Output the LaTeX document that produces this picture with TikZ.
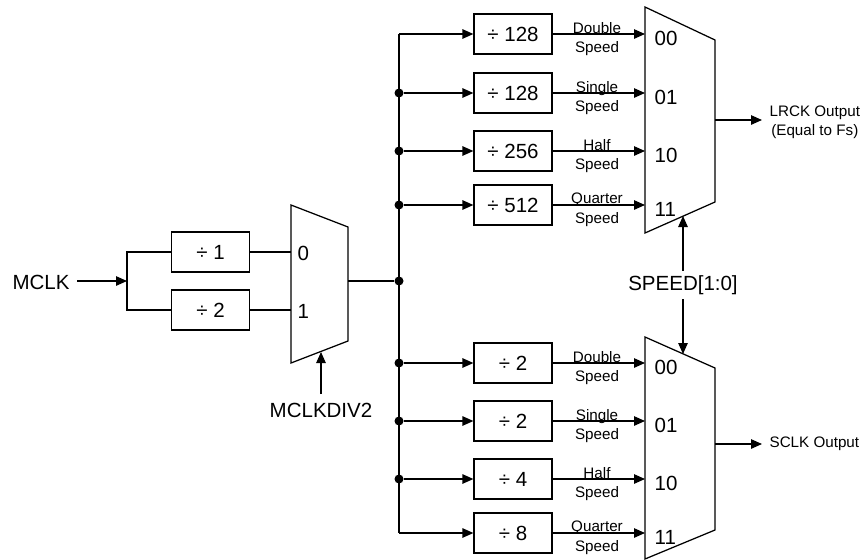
\documentclass[tikz,border=0pt]{standalone}
\usepackage{fontspec}
\setmainfont{Liberation Sans}
\usetikzlibrary{arrows.meta}
\begin{document}
\begin{tikzpicture}[x=1pt,y=-1pt,
  line width=1.25pt,
  big/.style={font=\fontsize{20.5}{24}\selectfont},
  small/.style={font=\fontsize{15.2}{19}\selectfont},
  divbox/.style={draw, big, minimum width=78pt, minimum height=40pt, inner sep=0pt},
  arr/.style={-{Triangle[length=11pt,width=9.5pt]}},
  dot/.style={circle, fill, inner sep=0pt, minimum size=9pt},
  inlbl/.style={big, inner sep=0pt, anchor=west},
  splbl/.style={small, inner sep=0pt, anchor=base},
]
\useasboundingbox (0,0) rectangle (863,560);

% ---------- left part ----------
\node[big, inner sep=0pt] (mclk) at (41,282) {MCLK};
\coordinate (split) at (127,281);
\node[divbox] (d1) at (210.5,252) {÷ 1};
\node[divbox] (d2) at (210.5,310) {÷ 2};
\draw[arr] ([xshift=7pt]mclk.east |- split) -- (split);
\draw (d1.west) -| (split) |- (d2.west);

% left mux
\coordinate (mTL) at (291,205);
\coordinate (mTR) at (348,227);
\coordinate (mBR) at (348,341);
\coordinate (mBL) at (291,363);
\draw (mTL) -- (mTR) -- (mBR) -- (mBL) -- cycle;
\draw (d1.east) -- (d1.east -| mTL);
\draw (d2.east) -- (d2.east -| mTL);
\node[inlbl] (m0) at (297,253) {0};
\node[inlbl] (m1) at (297,311) {1};
\coordinate (mo) at (348,281);
\node[big, inner sep=0pt] (mdiv) at (321,410) {MCLKDIV2};
\coordinate (msel) at (321,352);
\draw[arr] ([yshift=8pt]mdiv.north) -- (msel);

% ---------- bus ----------
\coordinate (btop) at (399,34);
\coordinate (bbot) at (399,533);
\draw (btop) -- (bbot);
\node[dot] (j0) at (399,281) {};
\draw (mo) -- (j0);

% top dividers
\node[divbox] (t1) at (513,34) {÷ 128};
\node[divbox] (t2) at (513,93) {÷ 128};
\node[divbox] (t3) at (513,151) {÷ 256};
\node[divbox] (t4) at (513,205) {÷ 512};
\node[dot] (jt2) at (399,93) {};
\node[dot] (jt3) at (399,151) {};
\node[dot] (jt4) at (399,205) {};
\draw[arr] (btop) -- (t1.west);
\draw[arr] (jt2) -- (t2.west);
\draw[arr] (jt3) -- (t3.west);
\draw[arr] (jt4) -- (t4.west);

% bottom dividers
\node[divbox] (b1) at (513,363) {÷ 2};
\node[divbox] (b2) at (513,421) {÷ 2};
\node[divbox] (b3) at (513,479) {÷ 4};
\node[divbox] (b4) at (513,533) {÷ 8};
\node[dot] (jb1) at (399,363) {};
\node[dot] (jb2) at (399,421) {};
\node[dot] (jb3) at (399,479) {};
\draw[arr] (jb1) -- (b1.west);
\draw[arr] (jb2) -- (b2.west);
\draw[arr] (jb3) -- (b3.west);
\draw[arr] (bbot) -- (b4.west);

% ---------- top mux ----------
\coordinate (tTL) at (645,7);
\coordinate (tTR) at (715,40);
\coordinate (tBR) at (715,202);
\coordinate (tBL) at (645,233);
\draw (tTL) -- (tTR) -- (tBR) -- (tBL) -- cycle;
\draw[arr] (t1.east) -- (t1.east -| tTL);
\draw[arr] (t2.east) -- (t2.east -| tTL);
\draw[arr] (t3.east) -- (t3.east -| tTL);
\draw[arr] (t4.east) -- (t4.east -| tTL);
\node[inlbl] at (654,38.5) {00};
\node[inlbl] at (654,97.5) {01};
\node[inlbl] at (654,155.5) {10};
\node[inlbl] at (654,209.5) {11};
\node[splbl] at (597,33) {Double};
\node[splbl] at (597,52) {Speed};
\node[splbl] at (597,92) {Single};
\node[splbl] at (597,111) {Speed};
\node[splbl] at (597,150) {Half};
\node[splbl] at (597,169) {Speed};
\node[splbl] at (597,203) {Quarter};
\node[splbl] at (597,223) {Speed};
\coordinate (tmo) at (715,120);
\node[small, align=center, anchor=west, inner sep=0pt] (lrck) at (769,122) {LRCK Output\\(Equal to Fs)};
\draw[arr, shorten >=7pt] (tmo) -- (tmo -| lrck.west);

% ---------- bottom mux ----------
\coordinate (uTL) at (645,337);
\coordinate (uTR) at (715,368);
\coordinate (uBR) at (715,530);
\coordinate (uBL) at (645,559);
\draw (uTL) -- (uTR) -- (uBR) -- (uBL) -- cycle;
\draw[arr] (b1.east) -- (b1.east -| uTL);
\draw[arr] (b2.east) -- (b2.east -| uTL);
\draw[arr] (b3.east) -- (b3.east -| uTL);
\draw[arr] (b4.east) -- (b4.east -| uTL);
\node[inlbl] at (654,367.5) {00};
\node[inlbl] at (654,425.5) {01};
\node[inlbl] at (654,483.5) {10};
\node[inlbl] at (654,537.5) {11};
\node[splbl] at (597,362) {Double};
\node[splbl] at (597,381) {Speed};
\node[splbl] at (597,420) {Single};
\node[splbl] at (597,439) {Speed};
\node[splbl] at (597,478) {Half};
\node[splbl] at (597,497) {Speed};
\node[splbl] at (597,531) {Quarter};
\node[splbl] at (597,551) {Speed};
\coordinate (umo) at (715,444);
\node[small, anchor=west, inner sep=0pt] (sclk) at (769,444) {SCLK Output};
\draw[arr, shorten >=7pt] (umo) -- (umo -| sclk.west);

% ---------- speed select ----------
\node[big, inner sep=4pt] (spd) at (683,285) {SPEED[1:0]};
\coordinate (tsel) at (683,216);
\coordinate (usel) at (683,354);
\draw[arr] (spd.north) -- (tsel);
\draw[arr] (spd.south) -- (usel);
\end{tikzpicture}
\end{document}
